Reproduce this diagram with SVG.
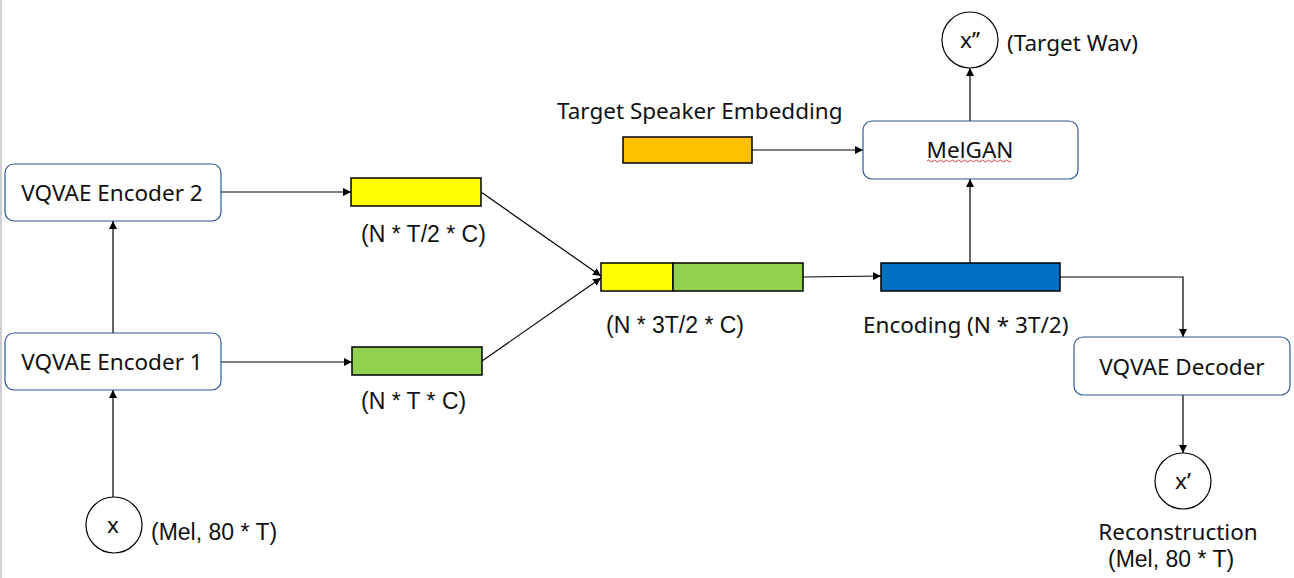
<svg xmlns="http://www.w3.org/2000/svg" width="1294" height="578" viewBox="0 0 1294 578">
<defs>
<marker id="ah" viewBox="0 0 10 10" refX="10" refY="5" markerWidth="8" markerHeight="8" markerUnits="userSpaceOnUse" orient="auto"><path d="M0,0 L10,5 L0,10 z" fill="#000"/></marker>
<style>
.box{fill:#fff;stroke:#2f5597;stroke-width:1.2}
.bar{stroke:#000;stroke-width:1.5}
.circ{fill:#fff;stroke:#000;stroke-width:1.2}
.t{font-family:"Noto Sans","DejaVu Sans",sans-serif;font-size:22.5px;fill:#111}
.a{font-family:"Liberation Sans",Arial,sans-serif;font-size:23px;fill:#111}
.c{stroke:#000;stroke-width:1.2;fill:none;marker-end:url(#ah)}
</style>
</defs>
<rect width="1294" height="578" fill="#fff"/>
<line x1="1" y1="0" x2="1" y2="578" stroke="#bfbfbf" stroke-width="1.5"/>
<g id="connectors">
<path class="c" d="M221,192 H351"/>
<path class="c" d="M221,362 H352"/>
<path class="c" d="M113,333 V221"/>
<path class="c" d="M113,497 V390"/>
<path class="c" d="M481,192 L601,276"/>
<path class="c" d="M482,361 L601,278"/>
<path class="c" d="M803,277 L881,276" stroke="#555"/>
<path class="c" d="M970,263 V179"/>
<path class="c" d="M1060,277 H1183 V337"/>
<path class="c" d="M752,150 H863"/>
<path class="c" d="M970,121 L970,68" stroke="#555"/>
<path class="c" d="M1183,395 V453"/>
</g>
<g id="enc2"><rect class="box" x="5" y="164" width="216" height="57" rx="9"/><text class="t" x="112" y="201" text-anchor="middle">VQVAE Encoder 2</text></g>
<g id="enc1"><rect class="box" x="5" y="333" width="216" height="57" rx="9"/><text class="t" x="112" y="370" text-anchor="middle">VQVAE Encoder 1</text></g>
<g id="x"><circle class="circ" cx="114" cy="525" r="28"/><text class="t" x="113" y="533" text-anchor="middle">x</text><text class="a" x="151" y="540">(Mel, 80 * T)</text></g>
<g id="feat2"><rect class="bar" x="351" y="178" width="130" height="28" fill="#ffff00"/><text class="a" x="361" y="242">(N * T/2 * C)</text></g>
<g id="feat1"><rect class="bar" x="352" y="347" width="130" height="28" fill="#92d050"/><text class="a" x="361" y="409">(N * T * C)</text></g>
<g id="concat"><rect class="bar" x="601" y="263" width="72" height="28" fill="#ffff00"/><rect class="bar" x="673" y="263" width="130" height="28" fill="#92d050"/><text class="a" x="606" y="333">(N * 3T/2 * C)</text></g>
<g id="encoding"><rect class="bar" x="881" y="263" width="179" height="28" fill="#0070c0"/><text class="t" x="863" y="333">Encoding (N * 3T/2)</text></g>
<g id="spk"><text class="t" x="557" y="119">Target Speaker Embedding</text><rect class="bar" x="623" y="137" width="129" height="26" fill="#ffc000"/></g>
<g id="melgan"><rect class="box" x="863" y="121" width="215" height="58" rx="9"/><text class="t" x="970" y="158" text-anchor="middle">MelGAN</text><path d="M927,161 q1.5,-2 3,0 t3,0 t3,0 t3,0 t3,0 t3,0 t3,0 t3,0 t3,0 t3,0 t3,0 t3,0 t3,0 t3,0 t3,0 t3,0 t3,0 t3,0 t3,0 t3,0 t3,0 t3,0 t3,0 t3,0 t3,0 t3,0 t3,0 t3,0" fill="none" stroke="#e03030" stroke-width="0.9"/></g>
<g id="xpp"><circle class="circ" cx="970" cy="40" r="28"/><text class="t" x="970" y="48" text-anchor="middle">x’’</text><text class="t" x="1007" y="51">(Target Wav)</text></g>
<g id="decoder"><rect class="box" x="1074" y="337" width="216" height="58" rx="9"/><text class="t" x="1182" y="375" text-anchor="middle">VQVAE Decoder</text></g>
<g id="xp"><circle class="circ" cx="1183" cy="481" r="28"/><text class="t" x="1183" y="489" text-anchor="middle">x’</text><text class="t" x="1178" y="540" text-anchor="middle">Reconstruction</text><text class="a" x="1108" y="567">(Mel, 80 * T)</text></g>
</svg>
